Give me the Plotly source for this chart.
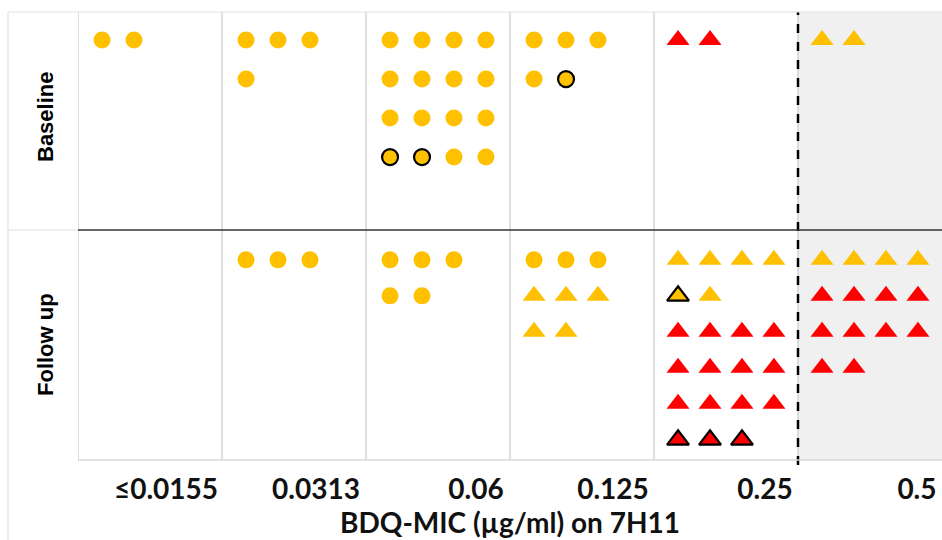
import plotly.graph_objects as go

# ---------------- data ----------------
categories = ["≤0.0155", "0.0313", "0.06", "0.125", "0.25", "0.5"]

# each string is one row of markers in a cell; codes:
# c = yellow circle, C = yellow circle with black outline
# t = yellow triangle, T = yellow triangle with black outline
# r = red triangle,    R = red triangle with black outline
baseline_rows = {
    "≤0.0155": ["cc"],
    "0.0313": ["ccc", "c"],
    "0.06": ["cccc", "cccc", "cccc", "CCcc"],
    "0.125": ["ccc", "cC"],
    "0.25": ["rr"],
    "0.5": ["tt"],
}
followup_rows = {
    "≤0.0155": [],
    "0.0313": ["ccc"],
    "0.06": ["ccc", "cc"],
    "0.125": ["ccc", "ttt", "tt"],
    "0.25": ["tttt", "Tt", "rrrr", "rrrr", "rrrr", "RRR"],
    "0.5": ["tttt", "rrrr", "rrrr", "rr"],
}
panel_labels = ["Baseline", "Follow up"]
x_title = "BDQ-MIC (µg/ml) on 7H11"

# ---------------- styles ----------------
YELLOW = "#FFC000"
RED = "#FF0000"
styles = {
    "c": dict(symbol="circle", color=YELLOW, lw=0, size=17),
    "C": dict(symbol="circle", color=YELLOW, lw=2.2, size=16),
    "t": dict(symbol="triangle-up", color=YELLOW, lw=0, size=20),
    "T": dict(symbol="triangle-up", color=YELLOW, lw=2.2, size=19),
    "r": dict(symbol="triangle-up", color=RED, lw=0, size=20),
    "R": dict(symbol="triangle-up", color=RED, lw=2.2, size=19),
}
slot0, slot_step = 0.167, 0.222  # marker slot positions inside a column
label_offsets = [0.611, 0.653, 0.764, 0.715, 0.771, 0.826]  # tick label placement in column

W, H = 942, 540
px_left = 78
plot_top, mid, plot_bot = 12, 230, 460

fig = go.Figure()

def add_panel(rows_dict, yaxis_name):
    for code, st in styles.items():
        xs, ys = [], []
        for ci, cat in enumerate(categories):
            for ri, row in enumerate(rows_dict[cat]):
                for k, ch in enumerate(row):
                    if ch == code:
                        xs.append(ci + slot0 + slot_step * k)
                        ys.append(ri)
        if not xs:
            continue
        fig.add_trace(go.Scatter(
            x=xs, y=ys, mode="markers", yaxis=yaxis_name,
            xaxis="x2" if yaxis_name == "y2" else "x",
            marker=dict(symbol=st["symbol"], color=st["color"], size=st["size"],
                        line=dict(color="black", width=st["lw"])),
            showlegend=False, hoverinfo="skip", cliponaxis=False))

add_panel(baseline_rows, "y2")
add_panel(followup_rows, "y")

def py(p):  # pixel y -> paper
    return 1 - p / H

font_tick = dict(family="Lato, 'Open Sans', sans-serif", size=28, color="#111111")

fig.update_layout(
    width=W, height=H,
    margin=dict(l=0, r=0, t=0, b=0, autoexpand=False),
    paper_bgcolor="white", plot_bgcolor="white",
    xaxis=dict(domain=[px_left / W, 1], range=[0, 6], anchor="y",
               tickmode="array",
               tickvals=[i + label_offsets[i] for i in range(len(categories))],
               ticktext=["<b>%s</b>" % c for c in categories],
               ticks="outside", ticklen=4, tickcolor="rgba(0,0,0,0)",
               tickfont=font_tick, automargin=False,
               showgrid=False, zeroline=False, showline=False,
               title=dict(text="<b>%s</b>" % x_title, font=font_tick, standoff=6)),
    xaxis2=dict(domain=[px_left / W, 1], range=[0, 6], anchor="y2",
                showticklabels=False, ticks="", showgrid=False,
                zeroline=False, showline=False, automargin=False),
    yaxis=dict(domain=[py(plot_bot), py(mid)], range=[5.56, -0.83], automargin=False,
               showticklabels=False, showgrid=False, zeroline=False, ticks=""),
    yaxis2=dict(domain=[py(mid), py(plot_top)], range=[4.87, -0.72], automargin=False,
                showticklabels=False, showgrid=False, zeroline=False, ticks=""),
)

shapes = [
    # shaded >0.25 region
    dict(type="rect", xref="x", yref="paper", x0=5, x1=6, y0=py(plot_bot), y1=py(plot_top),
         fillcolor="#F0F0F0", line=dict(width=0), layer="below"),
]
# vertical column separators
for i in range(len(categories)):
    shapes.append(dict(type="line", xref="x", yref="paper", x0=i, x1=i,
                       y0=py(plot_bot), y1=py(plot_top),
                       line=dict(color="#d4d4d4", width=1.5), layer="below"))
shapes += [
    # dashed breakpoint
    dict(type="line", xref="x", yref="paper", x0=5, x1=5, y0=py(plot_bot + 5), y1=py(plot_top),
         line=dict(color="black", width=2.5, dash="dash")),
    # panel separator
    dict(type="line", xref="x", yref="paper", x0=0, x1=6, y0=py(mid), y1=py(mid),
         line=dict(color="#333333", width=1.6)),
    dict(type="line", xref="paper", yref="paper", x0=8 / W, x1=px_left / W, y0=py(mid), y1=py(mid),
         line=dict(color="#dddddd", width=1.2)),
    # borders
    dict(type="line", xref="paper", yref="paper", x0=8 / W, x1=1, y0=py(plot_top), y1=py(plot_top),
         line=dict(color="#e2e2e2", width=1.2)),
    dict(type="line", xref="paper", yref="paper", x0=8 / W, x1=8 / W, y0=0, y1=py(plot_top),
         line=dict(color="#e2e2e2", width=1.2)),
    dict(type="line", xref="x", yref="paper", x0=0, x1=6, y0=py(plot_bot), y1=py(plot_bot),
         line=dict(color="#d8d8d8", width=1.6)),
]
fig.update_layout(shapes=shapes)

label_font = dict(family="Liberation Sans, Arial, sans-serif", size=22, color="black")
fig.add_annotation(text="<b>%s</b>" % panel_labels[0], xref="paper", yref="paper",
                   x=45 / W, y=py(117), xanchor="center", yanchor="middle",
                   textangle=-90, showarrow=False, font=label_font)
fig.add_annotation(text="<b>%s</b>" % panel_labels[1], xref="paper", yref="paper",
                   x=45 / W, y=py(345), xanchor="center", yanchor="middle",
                   textangle=-90, showarrow=False, font=label_font)

fig.write_html("out.html", config={"displayModeBar": False},
               post_script="document.body.style.margin='0';document.body.style.padding='0';")
